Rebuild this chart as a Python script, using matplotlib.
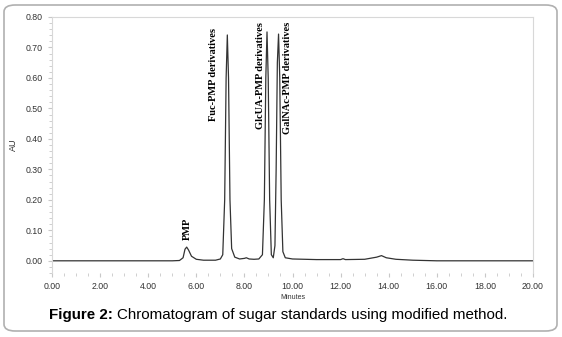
import matplotlib
matplotlib.use("Agg")
import matplotlib.pyplot as plt
from matplotlib.patches import FancyBboxPatch
from matplotlib.ticker import MultipleLocator, FormatStrFormatter

# retention time (min) and absorbance (AU)
minutes = [0.0, 5.0, 5.3, 5.45, 5.53, 5.6, 5.68, 5.8, 6.0, 6.3, 6.8,
           7.0, 7.1, 7.18, 7.24, 7.29, 7.34, 7.4, 7.47, 7.6, 7.8,
           8.0, 8.08, 8.2, 8.4, 8.6, 8.75, 8.83, 8.89, 8.94, 8.99, 9.05, 9.12,
           9.2, 9.27, 9.32, 9.37, 9.42, 9.47, 9.53, 9.6, 9.7,
           10.0, 11.0, 12.0, 12.1, 12.2, 13.0, 13.5, 13.7, 13.9, 14.3,
           15.0, 16.0, 20.0]
au = [0.0, 0.0, 0.001, 0.01, 0.038, 0.045, 0.035, 0.015, 0.005, 0.002, 0.002,
      0.006, 0.02, 0.2, 0.6, 0.741, 0.6, 0.2, 0.04, 0.012, 0.006,
      0.008, 0.01, 0.006, 0.005, 0.006, 0.02, 0.2, 0.6, 0.751, 0.6, 0.2, 0.02,
      0.01, 0.05, 0.3, 0.65, 0.744, 0.6, 0.2, 0.03, 0.01,
      0.006, 0.004, 0.004, 0.007, 0.004, 0.005, 0.012, 0.017, 0.01, 0.005,
      0.002, 0.0, 0.0]

# peak labels: text, x, y anchor
peak_names = ["PMP", "Fuc-PMP derivatives", "GlcUA-PMP derivatives", "GalNAc-PMP derivatives"]
label_x = [5.63, 6.73, 8.67, 9.81]
label_y = [0.069, 0.764, 0.784, 0.784]

fig = plt.figure(figsize=(5.62, 3.37), dpi=100)

# rounded frame around the whole figure
frame = FancyBboxPatch((4 / 562, 6 / 337), 553 / 562, 326 / 337,
                       boxstyle="round,pad=0,rounding_size=0.02",
                       transform=fig.transFigure, facecolor="none",
                       edgecolor="#b0b0b0", lw=1.2)
fig.patches.append(frame)

ax = fig.add_axes([52 / 562, (337 - 273) / 337, 481 / 562, 256 / 337])
ax.plot(minutes, au, color="#333333", lw=0.9)

ax.set_xlim(0, 20)
ax.set_ylim(-0.04, 0.80)
ax.xaxis.set_major_locator(MultipleLocator(2))
ax.xaxis.set_minor_locator(MultipleLocator(0.5))
ax.yaxis.set_major_locator(MultipleLocator(0.1))
ax.yaxis.set_minor_locator(MultipleLocator(0.02))
ax.xaxis.set_major_formatter(FormatStrFormatter("%.2f"))
ax.yaxis.set_major_formatter(FormatStrFormatter("%.2f"))
ax.tick_params(which="both", direction="out", colors="#c8c8c8",
               labelcolor="#333333", labelsize=6.3, labelfontfamily="Liberation Sans")
ax.tick_params(which="major", length=3)
ax.tick_params(which="minor", length=2)

for s in ["top", "right", "left"]:
    ax.spines[s].set_color("#d8d8d8")
    ax.spines[s].set_linewidth(0.8)
ax.spines["bottom"].set_visible(False)

ax.set_ylabel("AU", fontsize=6.5, family="Liberation Sans", color="#333333", labelpad=6)
ax.set_xlabel("Minutes", fontsize=5, family="Liberation Sans", color="#333333", labelpad=2)

for i, name in enumerate(peak_names):
    va = "bottom" if name == "PMP" else "top"
    ax.text(label_x[i], label_y[i], name, rotation=90, ha="center", va=va,
            fontsize=7.5, fontweight="bold", family="Liberation Serif")

# caption, bold part then normal part
t1 = fig.text(49 / 562, 1 - 315 / 337, "Figure 2:", fontsize=10.9, fontweight="bold",
              family="Liberation Sans", va="center", ha="left")
fig.canvas.draw()
bb = t1.get_window_extent()
fig.text((bb.x1 + 4) / fig.bbox.width, 1 - 315 / 337,
         "Chromatogram of sugar standards using modified method.",
         fontsize=10.9, family="Liberation Sans", va="center", ha="left")

fig.savefig("out.png", dpi=100)
